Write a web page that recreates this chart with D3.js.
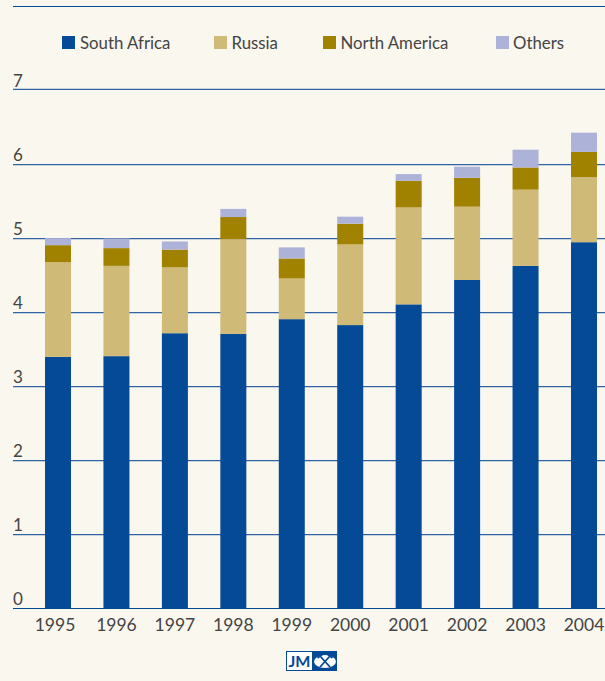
<!DOCTYPE html>
<html><head><meta charset="utf-8">
<script src="https://cdn.jsdelivr.net/npm/d3@7/dist/d3.min.js"></script>
<style>html,body{margin:0;padding:0;background:#faf7ef}svg{display:block}text{font-family:Lato,"Open Sans",sans-serif;fill:#444}</style>
</head><body><svg id="c" width="605" height="681"></svg>
<script>
const years=["1995","1996","1997","1998","1999","2000","2001","2002","2003","2004"];
const seriesNames=["South Africa","Russia","North America","Others"];
const southAfrica=[3.40,3.41,3.72,3.71,3.91,3.83,4.11,4.44,4.63,4.95];
const russia=[1.28,1.22,0.89,1.28,0.55,1.09,1.31,0.99,1.03,0.88];
const northAmerica=[0.23,0.24,0.24,0.30,0.27,0.28,0.36,0.39,0.30,0.34];
const others=[0.095,0.13,0.11,0.11,0.15,0.095,0.09,0.15,0.24,0.26];
const colours=["#054a96","#cfba78","#a18200","#adb2d8"];
const yTicks=[0,1,2,3,4,5,6,7];
const legendX=[62,214,323,496];

const svg=d3.select("#c");
svg.append("rect").attr("width",605).attr("height",681).attr("fill","#faf7ef");
const x=d3.scaleBand().domain(years).range([45,597]).paddingInner(0.555).paddingOuter(0);
const y=d3.scaleLinear().domain([0,7]).range([608.5,90.5]);
const rows=years.map((yr,i)=>({year:yr,"South Africa":southAfrica[i],"Russia":russia[i],"North America":northAmerica[i],"Others":others[i]}));
const stack=d3.stack().keys(seriesNames)(rows);

svg.append("line").attr("x1",13).attr("x2",605).attr("y1",6.5).attr("y2",6.5).attr("stroke","#054a96");

const lineY=d=>d===0?y(d):d===7?y(d)-1.2:y(d)+.2;
const grid=svg.append("g").selectAll("g").data(yTicks).join("g");
grid.append("line").attr("x1",13).attr("x2",605).attr("y1",lineY).attr("y2",lineY)
  .attr("stroke",d=>d===0?"#054a96":"#2f63a3").attr("stroke-width",d=>d===0?1:1.3);
grid.append("text").attr("x",13).attr("y",d=>y(d)-(d===7?4:3.5)).attr("font-size",17).text(d=>d);

stack.forEach((s,k)=>{
  svg.append("g").attr("fill",colours[k]).selectAll("rect").data(s).join("rect")
    .attr("x",d=>x(d.data.year)).attr("width",x.bandwidth())
    .attr("y",d=>y(d[1])).attr("height",d=>y(d[0])-y(d[1]));
});

svg.append("g").selectAll("text").data(years).join("text")
  .attr("x",(d,i)=>x(d)+x.bandwidth()/2+(i===0?-3:0)).attr("y",631).attr("text-anchor","middle").attr("font-size",17.5).text(d=>d);

const lg=svg.append("g").selectAll("g").data(seriesNames).join("g").attr("transform",(d,i)=>`translate(${legendX[i]},36)`);
lg.append("rect").attr("width",13).attr("height",13).attr("fill",(d,i)=>colours[i]);
lg.append("text").attr("x",(d,i)=>i===0?18:i===3?17:17.5).attr("y",12.5).attr("font-size",16.8).text(d=>d);

const logo=svg.append("g").attr("transform","translate(286,651)");
logo.append("rect").attr("x",.5).attr("y",.5).attr("width",50).attr("height",19).attr("fill","#fff").attr("stroke","#054a96");
logo.append("rect").attr("x",26).attr("width",25).attr("height",20).attr("fill","#054a96");
logo.append("text").attr("x",2.5).attr("y",16).attr("textLength",22).attr("lengthAdjust","spacingAndGlyphs").attr("font-size",15.5).attr("font-weight",700).style("fill","#054a96").text("JM");
logo.append("ellipse").attr("cx",39).attr("cy",10.5).attr("rx",11).attr("ry",6.5).attr("fill","#fff");
logo.append("path").attr("d","M34 5L44 16M44 5L34 16M31.5 7L36 3.5M46.5 7L42 3.5").attr("stroke","#054a96").attr("stroke-width",1.8).attr("fill","none");
</script></body></html>
